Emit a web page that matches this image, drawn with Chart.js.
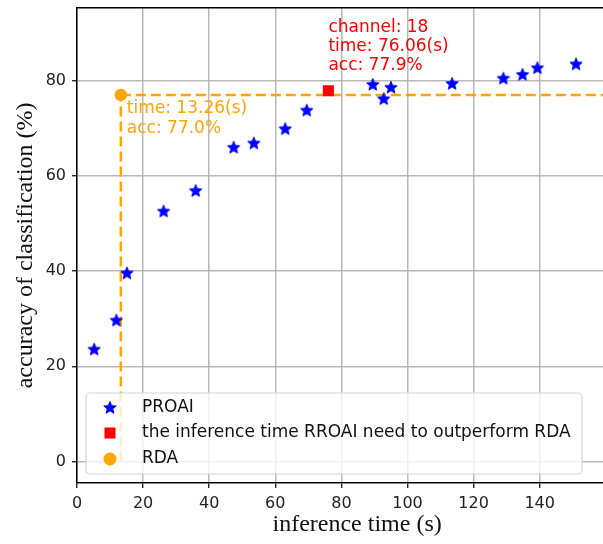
<!DOCTYPE html>
<html>
<head>
<meta charset="utf-8">
<script src="https://cdn.jsdelivr.net/npm/chart.js@4.4.1/dist/chart.umd.min.js"></script>
<style>
  html, body { margin: 0; padding: 0; background: #fff; overflow: hidden; }
  #wrap { width: 603px; height: 544px; overflow: hidden; }
</style>
</head>
<body>
<div id="wrap"><canvas id="accChart" width="645" height="544"></canvas></div>
<script>
// PROAI runs: inference time (s) and accuracy (%)
const proaiTime = [5.2, 11.9, 15.1, 26.2, 35.9, 47.4, 53.5, 63.0, 69.5, 89.5, 92.8, 95.0, 113.5, 129.0, 134.8, 139.3, 151.0];
const proaiAcc = [23.5, 29.6, 39.5, 52.5, 56.8, 65.9, 66.8, 69.8, 73.7, 79.1, 76.1, 78.5, 79.3, 80.4, 81.2, 82.6, 83.4];

// first point where RROAI beats RDA
const breakChannel = 18;
const breakTime = 76.06;
const breakAcc = 77.9;

// RDA baseline
const rdaTime = 13.26;
const rdaAcc = 77.0;

const xTicks = [0, 20, 40, 60, 80, 100, 120, 140];
const yTicks = [0, 20, 40, 60, 80];
const xRange = [0, 169.5];
const yRange = [-4.5, 95.3];

const legendLabels = ["PROAI", "the inference time RROAI need to outperform RDA", "RDA"];

const tickFont = { family: "DejaVu Sans", size: 16 };
const titleFont = { family: "Liberation Serif", size: 24 };
const noteFont = "17px 'DejaVu Sans'";

// filled star like matplotlib's "*"
function makeStar(r, color) {
  const size = Math.ceil(r * 2 + 3);
  const c = document.createElement("canvas");
  c.width = c.height = size;
  const g = c.getContext("2d");
  const cx = size / 2, cy = size / 2;
  g.beginPath();
  for (let i = 0; i < 10; i++) {
    const rr = i % 2 === 0 ? r : r * 0.44;
    const a = -Math.PI / 2 + i * Math.PI / 5;
    g.lineTo(cx + rr * Math.cos(a), cy + rr * Math.sin(a));
  }
  g.closePath();
  g.fillStyle = color;
  g.fill();
  g.lineWidth = 1;
  g.strokeStyle = color;
  g.stroke();
  return c;
}
const star = makeStar(6.5, "#0000ff");

const pts = (xs, ys) => xs.map((x, i) => ({ x: x, y: ys[i] }));

const keepTicks = (list) => (axis) => {
  axis.ticks = list.map((v) => ({ value: v }));
};

// top spine, annotations and the boxed legend
const extras = {
  id: "extras",
  afterDatasetsDraw(chart) {
    const { ctx, chartArea, scales } = chart;
    ctx.save();
    ctx.strokeStyle = "#000";
    ctx.lineWidth = 1.5;
    ctx.beginPath();
    ctx.moveTo(chartArea.left, chartArea.top);
    ctx.lineTo(chartArea.right, chartArea.top);
    ctx.stroke();

    ctx.font = noteFont;
    ctx.textBaseline = "middle";
    ctx.textAlign = "left";

    const bx = scales.x.getPixelForValue(breakTime);
    const by = scales.y.getPixelForValue(breakAcc);
    ctx.fillStyle = "#ff0000";
    ctx.fillText("channel: " + breakChannel, bx, by - 63);
    ctx.fillText("time: " + breakTime.toFixed(2) + "(s)", bx, by - 44);
    ctx.fillText("acc: " + breakAcc.toFixed(1) + "%", bx, by - 25);

    const rx = scales.x.getPixelForValue(rdaTime);
    const ry = scales.y.getPixelForValue(rdaAcc);
    ctx.fillStyle = "#ffa500";
    ctx.fillText("time: " + rdaTime.toFixed(2) + "(s)", rx + 6, ry + 14);
    ctx.fillText("acc: " + rdaAcc.toFixed(1) + "%", rx + 6, ry + 34);
    ctx.restore();
  },
  afterDraw(chart) {
    const { ctx } = chart;
    const x0 = 86, y0 = 393, w = 496, h = 81, r = 4;
    ctx.save();
    ctx.beginPath();
    ctx.roundRect(x0, y0, w, h, r);
    ctx.fillStyle = "rgba(255,255,255,0.8)";
    ctx.fill();
    ctx.strokeStyle = "#d6d6d6";
    ctx.lineWidth = 1.2;
    ctx.stroke();

    const rows = [408, 433, 459];
    const mx = 110, tx = 142;
    ctx.drawImage(star, mx - star.width / 2, rows[0] - star.height / 2);
    ctx.fillStyle = "#ff0000";
    ctx.fillRect(mx - 5.5, rows[1] - 5.5, 11, 11);
    ctx.fillStyle = "#ffa500";
    ctx.beginPath();
    ctx.arc(mx, rows[2], 6.5, 0, Math.PI * 2);
    ctx.fill();

    ctx.font = noteFont;
    ctx.textBaseline = "middle";
    ctx.fillStyle = "#111";
    legendLabels.forEach((t, i) => ctx.fillText(t, tx, rows[i]));
    ctx.restore();
  }
};

const gridStyle = {
  color: "rgba(176,176,176,0.9)",
  lineWidth: 1.5,
  tickColor: "#000",
  tickLength: 5,
  tickWidth: 1.2
};

window.onload = function () {
  const ctx = document.getElementById("accChart").getContext("2d");

  new Chart(ctx, {
    type: "scatter",
    data: {
      datasets: [
        {
          label: legendLabels[0],
          data: pts(proaiTime, proaiAcc),
          pointStyle: star,
          order: 2
        },
        {
          label: legendLabels[1],
          data: [{ x: breakTime, y: breakAcc }],
          pointStyle: "rect",
          pointRadius: 7.8,
          pointBorderWidth: 0,
          backgroundColor: "#ff0000",
          borderColor: "#ff0000",
          order: 1
        },
        {
          label: legendLabels[2],
          data: [{ x: rdaTime, y: rdaAcc }],
          pointStyle: "circle",
          pointRadius: 6.2,
          pointBorderWidth: 0,
          backgroundColor: "#ffa500",
          borderColor: "#ffa500",
          order: 0
        },
        {
          label: "rda-h",
          data: [{ x: rdaTime, y: rdaAcc }, { x: xRange[1], y: rdaAcc }],
          showLine: true,
          pointRadius: 0,
          borderColor: "#ffa500",
          borderWidth: 2.5,
          borderDash: [10, 5],
          order: 5
        },
        {
          label: "rda-v",
          data: [{ x: rdaTime, y: 0 }, { x: rdaTime, y: rdaAcc }],
          showLine: true,
          pointRadius: 0,
          borderColor: "#ffa500",
          borderWidth: 2.5,
          borderDash: [10, 5],
          order: 5
        }
      ]
    },
    options: {
      responsive: false,
      devicePixelRatio: 1,
      animation: false,
      layout: { padding: { top: 5, right: 0, left: 0, bottom: 0 } },
      plugins: {
        legend: { display: false },
        tooltip: { enabled: false }
      },
      scales: {
        x: {
          type: "linear",
          min: xRange[0],
          max: xRange[1],
          afterBuildTicks: keepTicks(xTicks),
          afterFit: (s) => {
            s.height = 61;
            s.paddingLeft = 0;
            s.paddingRight = 0;
          },
          ticks: { font: tickFont, color: "#222", padding: 6, maxRotation: 0 },
          grid: gridStyle,
          border: { color: "#000", width: 1.5 },
          title: {
            display: true,
            text: "inference time (s)",
            font: titleFont,
            color: "#111",
            padding: { top: 0, bottom: 5 }
          }
        },
        y: {
          type: "linear",
          min: yRange[0],
          max: yRange[1],
          afterBuildTicks: keepTicks(yTicks),
          afterFit: (s) => {
            s.width = 77;
            s.paddingTop = 0;
            s.paddingBottom = 0;
          },
          ticks: { font: tickFont, color: "#222", padding: 6 },
          grid: gridStyle,
          border: { color: "#000", width: 1.5 },
          title: {
            display: true,
            text: "accuracy of classification (%)",
            font: titleFont,
            color: "#111",
            padding: { top: 11, bottom: 0 }
          }
        }
      }
    },
    plugins: [extras]
  });
};
</script>
</body>
</html>
